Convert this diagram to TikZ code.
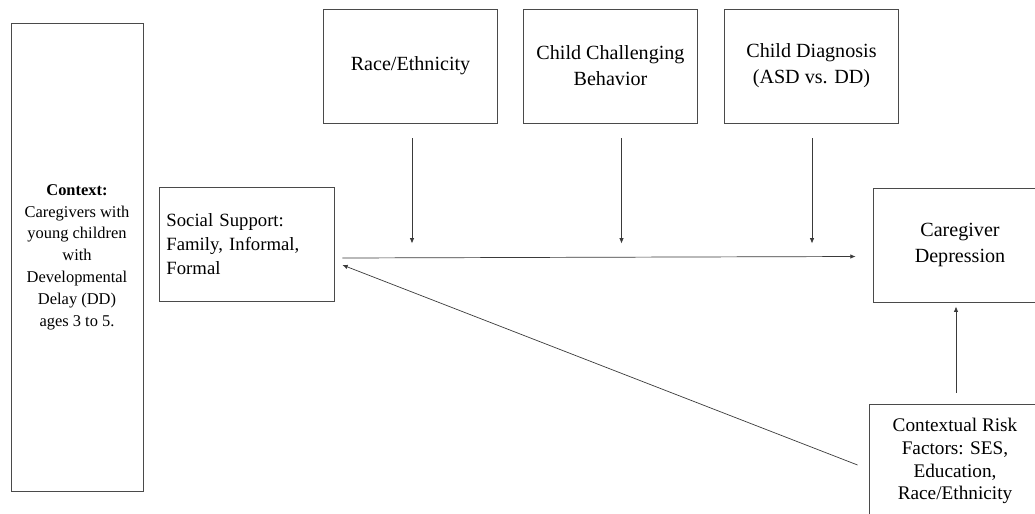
\documentclass[tikz,border=0pt]{standalone}
\usepackage{fontspec}
\setmainfont{Liberation Serif}
\usepackage{xcolor}
\usepackage{tikz}
\usetikzlibrary{arrows.meta}
\usetikzlibrary{calc}
\definecolor{boxcolor}{HTML}{4A4A4A}
\definecolor{arrowcolor}{HTML}{3A3A3A}

\begin{document}
\begin{tikzpicture}[x=0.025cm,y=-0.025cm,
   factorbox/.style={draw=boxcolor,line width=0.6pt,align=center,
      minimum width=4.35cm,minimum height=2.85cm,inner sep=0pt,
      font=\fontsize{14.3}{18.5}\selectfont},
   arr/.style={draw=arrowcolor,line width=0.5pt,-{Latex[length=1.3mm,width=1.1mm]}}]
\useasboundingbox (0,0) rectangle (1035,514);
% boxes
\node[factorbox,minimum width=3.3cm,minimum height=11.7cm,
   font=\fontsize{11.7}{15.5}\selectfont] (context) at (77,257)
   {\textbf{Context:}\\Caregivers with\\young children\\with\\Developmental\\Delay (DD)\\ages 3 to 5.};
\node[factorbox,align=left,text width=4cm,inner xsep=0.1875cm,minimum width=4.375cm,
   font=\fontsize{13.3}{17}\selectfont] (support) at (246.5,244)
   {Social Support:\\Family, Informal,\\Formal};
\node[factorbox] (race) at (410.5,66) {Race/Ethnicity};
\node[factorbox] (behavior) at (610.5,66) {Child Challenging\\Behavior};
\node[factorbox] (diagnosis) at (811.5,66) {Child Diagnosis\\(ASD vs. DD)};
\node[factorbox] (depression) at (960,245) {Caregiver\\Depression};
\node[factorbox,minimum width=4.3cm,font=\fontsize{13.7}{16.3}\selectfont] (risk) at (955,461)
   {Contextual Risk\\Factors: SES,\\Education,\\Race/Ethnicity};
% arrows
\coordinate (mainA) at ($(support.east)+(8,14)$);
\coordinate (mainB) at ($(depression.west)+(-17,11.5)$);
\draw[arr] (mainA) -- (mainB);
\draw[arr] ($(race.south)+(1.5,15)$) -- ($(race.south)+(1.5,120)$);
\draw[arr] ($(behavior.south)+(11,15)$) -- ($(behavior.south)+(11,120)$);
\draw[arr] ($(diagnosis.south)+(0.5,15)$) -- ($(diagnosis.south)+(0.5,120)$);
\draw[arr] ($(risk.north)+(1,-11)$) -- ($(risk.north)+(1,-97)$);
\draw[arr] ($(risk.west)+(-11,4)$) -- ($(mainA)+(0,7)$);
\end{tikzpicture}
\end{document}
